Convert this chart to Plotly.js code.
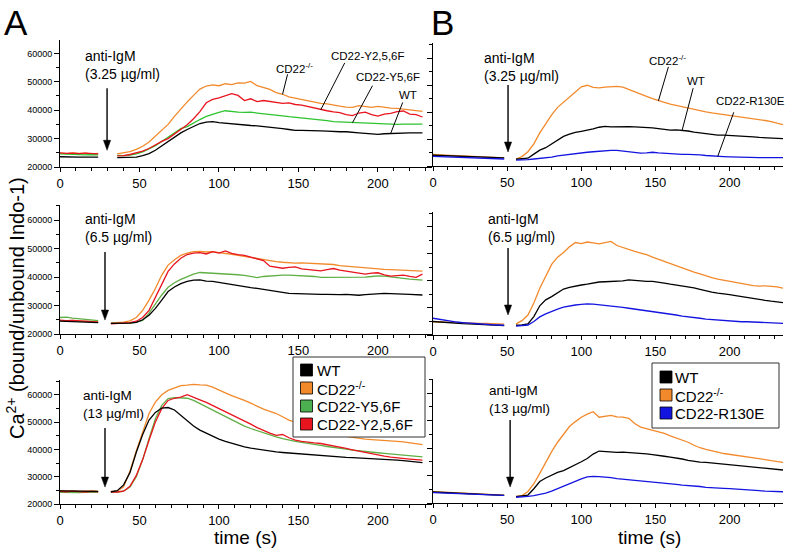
<!DOCTYPE html>
<html>
<head>
<meta charset="utf-8">
<script src="https://cdn.plot.ly/plotly-3.0.1.min.js"></script>
<style>html,body{margin:0;padding:0;background:#fff}#chart{width:793px;height:549px}</style>
</head>
<body>
<div id="chart"></div>
<script>
// ---------------- DATA (Ca2+ ratio, in thousands) ----------------
const timeA = [0,4,8,12,16,20,24,28,32,36,40,44,48,52,56,60,64,68,72,76,80,84,88,92,96,100,104,108,112,116,120,124,128,132,136,140,144,148,152,156,160,164,168,172,176,180,184,188,192,196,200,204,208,212,216,220,224,228];
const timeB = [0,4,8,12,16,20,24,28,32,36,40,44,48,52,56,60,64,68,72,76,80,84,88,92,96,100,104,108,112,116,120,124,128,132,136,140,144,148,152,156,160,164,168,172,176,180,184,188,192,196,200,204,208,212,216,220,224,228,232,236];

const seriesA = ["WT", "CD22<sup>-/-</sup>", "CD22-Y5,6F", "CD22-Y2,5,6F"];
const seriesB = ["WT", "CD22<sup>-/-</sup>", "CD22-R130E"];
const doseLabels = ["(3.25 µg/ml)", "(6.5 µg/ml)", "(13 µg/ml)"];

// Panel A, 3.25 µg/ml
const wtA1   = [23.6,23.5,23.6,23.5,23.5,23.6,23.5,null,null,23.3,23.3,23.4,23.5,24.0,24.7,25.9,27.4,29.1,30.6,32.0,33.2,34.4,35.3,35.8,36.0,35.6,35.4,35.2,34.8,34.7,34.6,34.5,34.3,34.1,33.8,33.5,33.2,32.9,32.9,32.9,32.8,32.7,32.6,32.4,32.4,32.4,32.3,32.0,31.8,31.6,31.5,31.7,31.8,32.0,32.1,32.0,32.0,32.0];
const koA1   = [24.9,24.7,25.0,24.8,24.9,24.6,24.8,null,null,24.6,25.0,25.4,26.2,27.3,28.8,30.8,32.9,35.0,37.8,40.5,42.9,45.2,47.4,48.5,48.9,48.6,49.3,49.0,49.6,49.5,50.1,48.6,48.0,47.3,46.2,45.6,44.7,44.2,43.8,43.2,42.9,42.4,42.2,41.7,41.4,41.1,41.0,41.6,41.3,41.0,41.3,40.9,40.7,40.6,40.4,40.1,39.8,39.6];
const y56A1  = [24.6,24.5,24.4,24.5,24.3,24.4,24.3,null,null,24.1,24.0,24.2,24.6,25.3,26.3,27.5,29.0,30.5,32.2,33.5,34.2,35.6,36.7,37.8,38.6,39.2,39.8,39.5,39.3,39.2,39.3,39.0,38.8,38.5,38.3,38.0,37.7,37.5,37.3,37.1,36.9,36.5,36.3,36.0,35.9,35.7,35.6,35.4,35.3,35.4,35.2,35.0,34.9,35.0,35.1,35.1,35.1,35.1];
const y256A1 = [25.0,24.8,24.9,24.7,24.9,24.7,24.6,null,null,23.9,24.0,24.4,24.9,25.6,26.5,27.8,29.0,30.0,31.6,33.2,34.9,37.0,39.5,42.6,43.8,44.3,45.0,45.8,45.2,43.4,44.0,43.0,43.4,43.1,42.8,42.4,42.6,42.0,41.8,41.3,40.8,40.1,39.8,39.4,39.1,38.4,38.1,39.0,39.3,38.4,37.9,38.6,38.9,39.5,39.7,38.6,38.4,37.6];

// Panel A, 6.5 µg/ml
const wtA2   = [24.5,24.4,24.5,24.3,24.2,24.1,24.0,null,23.7,23.7,23.7,23.8,24.1,25.0,26.6,29.0,31.9,34.9,36.5,37.7,38.5,38.9,39.0,38.6,38.5,38.1,37.8,37.5,37.0,36.7,36.3,36.0,35.6,35.2,34.9,34.6,34.3,34.2,34.1,33.9,34.0,33.9,33.9,33.8,33.8,33.9,33.8,33.6,33.8,34.0,34.2,34.3,34.2,34.0,34.0,33.9,33.8,33.7];
const koA2   = [24.7,24.6,24.8,24.5,24.5,24.4,24.3,null,23.9,24.0,24.2,24.6,25.8,28.3,31.9,36.0,40.7,44.2,46.1,47.6,48.4,48.9,49.0,48.8,48.9,48.6,48.4,48.0,47.6,47.2,46.8,46.4,46.1,45.8,45.4,45.2,45.0,44.9,45.0,44.9,44.8,44.7,44.6,44.4,44.0,43.8,43.5,43.3,43.1,43.0,42.8,42.7,42.6,42.5,42.3,42.2,42.2,42.1];
const y56A2  = [25.8,25.9,25.6,25.4,25.1,24.9,24.7,null,23.7,23.7,23.8,23.9,24.2,24.8,27.3,30.5,33.7,36.4,38.0,39.2,40.2,41.0,41.6,41.5,41.4,41.2,41.1,41.0,40.8,40.6,40.2,39.8,40.2,40.4,40.6,40.7,40.7,40.6,40.5,40.4,40.2,39.9,39.9,40.0,39.9,39.9,39.9,39.9,40.0,40.2,40.4,40.3,40.0,39.7,39.5,39.3,39.1,38.9];
const y256A2 = [24.9,24.7,24.8,24.6,24.5,24.3,24.2,null,23.6,23.7,23.8,24.0,24.5,25.8,28.3,32.8,37.8,42.0,44.6,46.6,47.9,48.4,48.6,48.1,48.9,48.4,49.2,48.3,47.9,47.6,47.0,46.3,45.8,43.8,43.5,43.1,43.4,43.6,42.9,42.7,42.5,42.2,42.6,43.0,42.4,42.0,41.7,41.3,41.0,41.4,41.5,40.8,40.3,40.5,40.7,40.2,39.9,41.0];

// Panel A, 13 µg/ml
const wtA3   = [24.8,24.8,24.7,24.8,24.6,24.7,24.6,null,24.5,24.9,27.0,31.5,39.0,45.5,50.8,53.6,55.2,55.4,54.5,52.6,50.4,48.6,47.1,45.9,44.8,43.8,43.0,42.3,41.6,41.0,40.5,40.1,39.8,39.4,39.1,38.9,38.7,38.5,38.3,38.1,37.9,37.8,37.6,37.4,37.3,37.1,37.0,36.9,36.7,36.6,36.4,36.3,36.2,36.1,35.9,35.7,35.5,35.2];
const koA3   = [24.9,24.7,24.8,24.6,24.7,24.8,24.6,null,24.5,24.7,26.3,32.0,39.5,46.5,53.2,57.4,60.1,61.7,62.6,63.4,63.6,63.9,63.7,63.6,62.9,61.7,60.8,59.8,59.0,58.0,57.0,55.8,54.8,54.0,53.2,52.0,50.8,50.0,49.3,48.6,47.9,47.3,46.7,46.0,45.3,44.8,44.4,44.1,43.8,43.6,43.5,43.3,43.1,43.0,42.8,42.5,42.0,41.8];
const y56A3  = [24.3,24.2,24.3,24.2,24.3,24.2,24.3,null,24.4,24.4,24.7,26.2,30.0,36.3,44.0,51.3,56.2,58.7,59.0,59.0,58.8,58.0,56.8,55.6,54.4,53.2,52.0,50.7,49.6,48.6,47.7,46.9,46.0,45.3,44.6,44.0,43.4,43.0,42.6,42.3,41.9,41.5,41.1,40.7,40.4,40.1,39.8,39.5,39.3,39.0,38.8,38.6,38.4,38.2,38.0,37.7,37.5,37.3];
const y256A3 = [24.6,24.5,24.7,24.5,24.4,24.6,24.5,null,24.4,24.4,24.7,26.5,30.5,36.3,43.4,50.1,55.0,58.0,58.8,59.2,60.1,59.0,58.2,57.3,56.2,55.0,53.9,52.6,51.5,50.4,49.3,48.0,46.9,46.0,45.2,45.5,44.3,43.4,43.0,42.6,42.4,42.2,41.8,41.4,41.0,40.4,39.9,39.4,38.9,38.5,38.1,37.6,37.2,36.9,36.7,36.5,36.3,36.1];

// Panel B, 3.25 µg/ml
const wtB1   = [24.0,23.9,23.9,23.8,23.7,23.6,23.5,23.5,23.4,23.3,23.2,23.1,23.0,null,22.5,22.6,22.9,24.4,25.9,26.8,28.2,29.8,31.0,31.8,32.5,32.9,33.3,33.8,34.4,34.7,34.5,34.6,34.6,34.6,34.5,34.4,34.5,34.2,33.9,33.6,33.3,33.4,33.3,33.0,32.6,32.3,31.9,31.6,31.5,31.5,31.4,31.2,31.0,30.9,30.8,30.6,30.5,30.4,30.3,30.2];
const koB1   = [24.3,24.1,24.0,23.9,23.8,23.7,23.6,23.5,23.4,23.3,23.2,23.1,23.0,null,22.6,23.5,25.3,28.2,32.3,35.6,39.0,41.8,43.6,45.6,47.5,49.4,50.0,49.2,49.0,49.3,49.4,49.6,49.3,48.5,47.5,46.7,45.9,45.0,44.2,43.6,43.0,42.5,41.9,41.4,40.9,40.5,40.1,39.7,39.4,39.1,38.8,38.6,38.3,37.9,37.5,37.2,36.9,36.5,35.9,35.4];
const r130B1 = [23.6,23.5,23.4,23.3,23.3,23.2,23.1,23.0,22.9,22.8,22.8,22.7,22.6,null,22.2,22.2,22.4,22.6,22.8,23.0,23.3,23.8,24.1,24.4,24.7,24.9,25.1,25.3,25.5,25.7,25.8,25.8,25.6,25.3,25.0,24.8,24.9,25.1,24.9,24.7,24.6,24.4,24.3,24.3,24.3,24.1,23.9,23.7,23.6,23.5,23.4,23.3,23.2,23.2,23.1,23.1,23.1,23.1,23.1,23.1];

// Panel B, 6.5 µg/ml
const wtB2   = [25.0,24.8,24.6,24.5,24.3,24.2,24.1,24.0,23.8,23.7,23.6,23.5,23.5,null,23.6,23.7,24.1,26.8,30.8,33.0,34.2,35.6,37.0,37.6,38.1,38.5,38.8,39.2,39.6,39.7,39.8,39.8,40.0,40.4,40.2,39.9,39.8,39.8,39.6,39.2,38.8,38.5,38.1,37.7,37.4,36.9,36.3,35.9,35.5,35.1,34.9,34.6,34.2,33.9,33.6,33.2,32.8,32.5,32.2,32.0];
const koB2   = [24.9,24.8,24.7,24.7,24.6,24.5,24.5,24.4,24.3,24.3,24.2,24.1,24.0,null,24.1,25.3,27.4,31.8,37.3,41.8,46.1,48.8,50.5,52.6,54.2,53.8,54.4,54.1,53.7,54.2,54.6,53.1,52.3,51.5,50.9,50.3,49.7,48.8,48.0,47.2,46.3,45.6,44.7,44.0,43.3,42.6,41.8,41.2,40.7,40.3,39.8,39.4,39.0,38.6,38.3,38.1,38.2,38.0,37.8,37.3];
const r130B2 = [26.2,25.8,25.4,25.1,24.8,24.6,24.4,24.2,24.0,23.9,23.8,23.7,23.6,null,23.3,23.4,23.7,25.0,26.7,27.8,28.8,29.6,30.3,30.8,31.1,31.3,31.5,31.4,31.2,31.0,30.7,30.4,30.2,29.9,29.6,29.4,29.1,28.8,28.5,28.1,27.7,27.4,27.0,26.8,26.5,26.2,25.9,25.7,25.5,25.3,25.1,24.9,24.9,24.9,24.8,24.6,24.5,24.4,24.3,24.3];

// Panel B, 13 µg/ml
const wtB3   = [24.0,23.9,23.8,23.7,23.6,23.5,23.4,23.3,23.2,23.1,23.0,22.9,22.8,null,22.3,22.5,22.9,25.2,27.8,29.1,30.2,31.1,31.8,32.8,33.8,35.0,36.2,37.8,38.9,38.7,38.5,38.4,38.5,38.4,38.3,38.1,37.9,37.6,37.4,37.0,36.7,36.4,36.0,35.5,35.1,34.9,34.8,34.6,34.3,34.0,33.8,33.6,33.4,33.2,33.0,32.9,32.7,32.4,32.2,32.0];
const koB3   = [24.1,24.0,23.9,23.8,23.7,23.6,23.5,23.4,23.3,23.2,23.1,23.0,22.9,null,22.4,22.7,24.2,27.0,30.8,34.8,38.7,42.1,45.0,47.8,49.6,51.2,52.3,53.2,51.2,51.6,51.9,51.3,51.2,50.8,48.9,47.6,47.0,46.6,46.0,45.3,44.4,43.6,42.9,42.1,41.0,40.1,39.5,38.9,38.5,38.0,37.7,37.4,37.2,36.8,36.5,36.2,35.8,35.4,35.1,34.8];
const r130B3 = [23.8,23.7,23.6,23.5,23.4,23.3,23.2,23.2,23.1,23.0,22.9,22.8,22.8,null,22.1,22.2,22.4,22.7,23.1,23.6,24.3,25.2,26.1,27.0,28.0,28.8,29.5,29.7,29.6,29.5,29.2,28.9,28.7,28.4,28.2,28.0,27.9,27.8,27.6,27.3,27.1,26.8,26.5,26.4,26.3,26.0,25.7,25.5,25.4,25.3,25.2,25.1,24.9,24.7,24.6,24.5,24.3,24.2,24.1,24.1];

const UNIT = 1000;

// ---------------- STYLE ----------------
const FONT = 'Liberation Sans, Arial, Helvetica, sans-serif';
const C = {wt:'#000000', ko:'#F28A2C', y56top:'#2EC42E', y56:'#5FAF45', y56leg:'#4CAF50', y256:'#E8141E', r130:'#1414E0'};
const W = 793, H = 549;
const PX = p => p / W;
const PY = p => 1 - p / H;
const ax = n => (n === 1 ? '' : String(n));

const traces = [];
function line(t, v, color, n, name) {
  traces.push({type:'scatter', mode:'lines', name:name, x:t, y:v.map(d => d === null ? null : d * UNIT),
    line:{color:color, width:1.3}, xaxis:'x' + ax(n), yaxis:'y' + ax(n),
    showlegend:false, connectgaps:false, hoverinfo:'skip'});
}
// Panel A
[1, 2, 3].forEach(n => {
  const d = {1:[koA1, y56A1, y256A1, wtA1], 2:[koA2, y56A2, y256A2, wtA2], 3:[koA3, y56A3, y256A3, wtA3]}[n];
  line(timeA, d[0], C.ko, n, seriesA[1]);
  line(timeA, d[1], n === 1 ? C.y56top : C.y56, n, seriesA[2]);
  line(timeA, d[2], C.y256, n, seriesA[3]);
  line(timeA, d[3], C.wt, n, seriesA[0]);
});
// Panel B
line(timeB, koB1, C.ko, 4, seriesB[1]); line(timeB, wtB1, C.wt, 4, seriesB[0]); line(timeB, r130B1, C.r130, 4, seriesB[2]);
line(timeB, koB2, C.ko, 5, seriesB[1]); line(timeB, wtB2, C.wt, 5, seriesB[0]); line(timeB, r130B2, C.r130, 5, seriesB[2]);
line(timeB, koB3, C.ko, 6, seriesB[1]); line(timeB, wtB3, C.wt, 6, seriesB[0]); line(timeB, r130B3, C.r130, 6, seriesB[2]);

// ---------------- AXES ----------------
function xax(d0, d1, range, anchor) {
  return {domain:[PX(d0), PX(d1)], range:range, anchor:anchor, showline:true, linecolor:'#000', linewidth:1,
    ticks:'outside', ticklen:4, tickwidth:1, tickcolor:'#000', tick0:0, dtick:50,
    tickfont:{size:13, color:'#000', family:FONT}, showgrid:false, zeroline:false,
    minor:{dtick:10, ticks:'outside', ticklen:3, tickwidth:1, tickcolor:'#000', showgrid:false}};
}
function yax(top, bottom, rmax, anchor, labels) {
  return {domain:[PY(bottom), PY(top)], range:[20000, rmax], anchor:anchor, showline:true, linecolor:'#000', linewidth:1,
    ticks:'outside', ticklen:5, tickwidth:1, tickcolor:'#000', tick0:0, dtick:10000, tickformat:'d',
    showticklabels:labels, tickfont:{size:9, color:'#000', family:FONT}, showgrid:false, zeroline:false,
    minor:{dtick:5000, ticks:'outside', ticklen:3, tickwidth:1, tickcolor:'#000', showgrid:false}};
}

const layout = {
  width:W, height:H, margin:{l:0, r:0, t:0, b:0}, paper_bgcolor:'#fff', plot_bgcolor:'rgba(0,0,0,0)',
  font:{family:FONT, color:'#000'}, showlegend:false,
  xaxis:  xax(60, 432, [0, 234], 'y'),
  xaxis2: xax(60, 432, [0, 234], 'y2'),
  xaxis3: xax(60, 432, [0, 234], 'y3'),
  xaxis4: xax(433, 783, [0, 236], 'y4'),
  xaxis5: xax(433, 783, [0, 236], 'y5'),
  xaxis6: xax(433, 783, [0, 236], 'y6'),
  yaxis:  yax(40, 167, 64700, 'x', true),
  yaxis2: yax(205, 334, 65300, 'x2', true),
  yaxis3: yax(380, 504, 65500, 'x3', true),
  yaxis4: yax(43, 166, 65700, 'x4', false),
  yaxis5: yax(212, 335, 65500, 'x5', false),
  yaxis6: yax(379, 503, 65100, 'x6', false),
  annotations: [], shapes: []
};

const ann = layout.annotations, shp = layout.shapes;
function txt(px, py, text, size, opts) {
  ann.push(Object.assign({xref:'paper', yref:'paper', x:PX(px), y:PY(py), text:text, showarrow:false,
    xanchor:'center', yanchor:'middle', font:{size:size, family:FONT, color:'#000'}}, opts || {}));
}
// panel letters and axis titles
txt(15.5, 22.5, 'A', 35);
txt(442.5, 22.5, 'B', 35);
txt(15, 308, 'Ca<sup>2+</sup> (bound/unbound Indo-1)', 20, {textangle:-90});
txt(245, 537.5, 'time (s)', 19);
txt(649, 537.5, 'time (s)', 19);

// stimulus labels + downward arrows (arrow drawn as pixel-sized shapes anchored at data point)
function stim(px, py, dose, size, n, t, v, len) {
  txt(px, py, 'anti-IgM<br>' + dose, size, {xanchor:'left', yanchor:'top', align:'left'});
  const base = {xref:'x' + ax(n), yref:'y' + ax(n), xsizemode:'pixel', ysizemode:'pixel', xanchor:t, yanchor:v};
  shp.push(Object.assign({type:'line', x0:0, x1:0, y0:len, y1:8, line:{color:'#000', width:1.4}}, base));
  shp.push(Object.assign({type:'path', path:'M -3.6 10 L 3.6 10 L 0 0 Z', fillcolor:'#000', line:{color:'#000', width:0.5}}, base));
}
stim(83, 46, doseLabels[0], 14, 1, 29.6, 25900, 62);
stim(83, 209, doseLabels[1], 14, 2, 28.3, 24900, 68);
stim(81, 386, doseLabels[2], 13.5, 3, 28.3, 26200, 59);
stim(482, 48, doseLabels[0], 14, 4, 50.6, 25200, 67);
stim(486, 209, doseLabels[1], 14, 5, 50.6, 27400, 67);
stim(487, 381, doseLabels[2], 13.5, 6, 52, 25800, 67);

// curve labels with pointer lines (top row)
function pointer(n, t, series, time, dx, dy) {
  const i = time.indexOf(t);
  shp.push({type:'line', xref:'x' + ax(n), yref:'y' + ax(n), xsizemode:'pixel', ysizemode:'pixel',
    xanchor:time[i], yanchor:series[i] * UNIT, x0:0, y0:0, x1:dx, y1:dy, line:{color:'#000', width:1}});
}
txt(294, 68, seriesA[1], 11.5);
txt(368, 56, seriesA[3], 11.5);
txt(388, 77.5, seriesA[2], 11.5);
txt(408, 95, seriesA[0], 11.5);
pointer(1, 140, koA1, timeA, 5, 20);
pointer(1, 164, y256A1, timeA, 24, 47);
pointer(1, 184, y56A1, timeA, 20, 37);
pointer(1, 208, wtA1, timeA, 12, 31);

txt(667, 60, seriesB[1], 11.5);
txt(696, 81, seriesB[0], 11.5);
txt(750, 101, seriesB[2], 11.5);
pointer(4, 152, koB1, timeB, 10, 34);
pointer(4, 168, wtB1, timeB, 11, 42);
pointer(4, 192, r130B1, timeB, 16, 44);

// legends (boxed, square swatches)
function legend(x0, x1, y0, y1, names, colors, rows, sq, tx) {
  shp.push({type:'rect', xref:'paper', yref:'paper', x0:PX(x0), x1:PX(x1), y0:PY(y1), y1:PY(y0),
    fillcolor:'#fff', line:{color:'#333', width:1}});
  names.forEach((nm, k) => {
    const cy = rows[k];
    shp.push({type:'rect', xref:'paper', yref:'paper', x0:PX(sq), x1:PX(sq + 12), y0:PY(cy + 6), y1:PY(cy - 6),
      fillcolor:colors[k], line:{color:'#000', width:0.8}});
    txt(tx, cy, nm, 15, {xanchor:'left'});
  });
}
legend(293, 425, 357, 437, seriesA, [C.wt, C.ko, C.y56leg, C.y256], [370, 388, 406, 424], 300.5, 315);
legend(652, 779, 363, 428, seriesB, [C.wt, C.ko, C.r130], [377, 395, 413], 660, 673);

Plotly.newPlot('chart', traces, layout, {staticPlot:true, displayModeBar:false});
</script>
</body>
</html>
